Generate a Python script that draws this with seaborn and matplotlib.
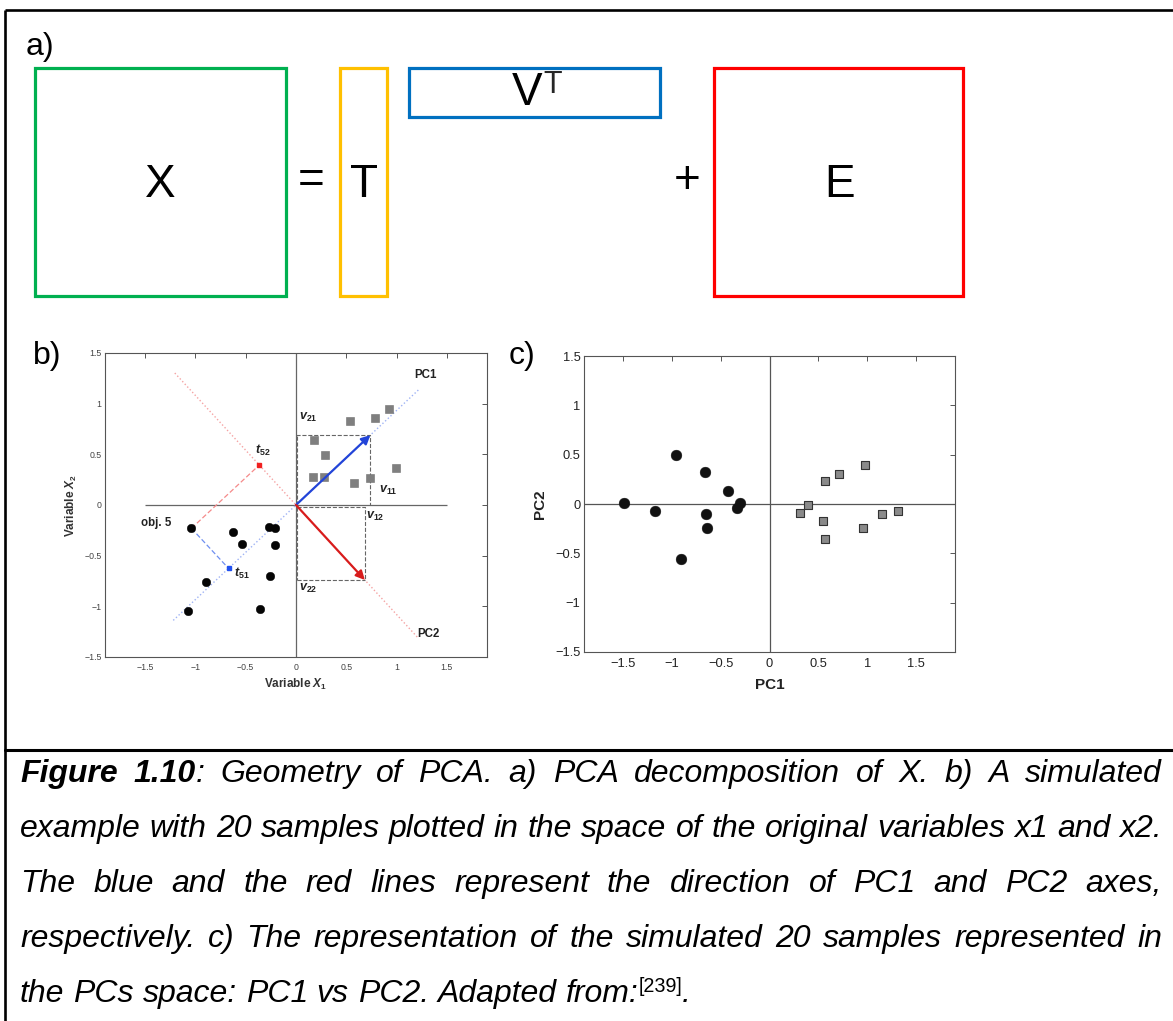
import re
import numpy as np
import pandas as pd
import matplotlib
matplotlib.use("Agg")
import matplotlib.pyplot as plt
from matplotlib.patches import Rectangle
from matplotlib.lines import Line2D
from matplotlib.ticker import FuncFormatter
from matplotlib.transforms import IdentityTransform
import seaborn as sns

# ---------------------------------------------------------------------------
# Data
# ---------------------------------------------------------------------------
# b) simulated samples in the space of the original variables
b_circle_x1 = [-1.04, -0.625, -0.54, -0.266, -0.206, -0.21, -0.256, -0.895, -1.074, -0.356]
b_circle_x2 = [-0.23, -0.27, -0.385, -0.214, -0.23, -0.39, -0.70, -0.763, -1.043, -1.026]
b_square_x1 = [0.176, 0.289, 0.173, 0.283, 0.579, 0.732, 0.991, 0.542, 0.781, 0.924]
b_square_x2 = [0.638, 0.493, 0.273, 0.273, 0.214, 0.266, 0.368, 0.832, 0.862, 0.947]

# loadings: PC1 = (v11, v21), PC2 = (v12, v22)
v_pc1 = [0.74, 0.69]
v_pc2 = [0.685, -0.74]
obj5_index = 0

# c) the same samples in the PC space
c_circle_pc1 = [-1.493, -1.173, -0.958, -0.91, -0.658, -0.648, -0.641, -0.423, -0.307, -0.331]
c_circle_pc2 = [0.013, -0.067, 0.495, -0.556, 0.32, -0.10, -0.24, 0.128, 0.013, -0.037]
c_square_pc1 = [0.31, 0.399, 0.566, 0.709, 0.975, 0.545, 0.569, 0.961, 1.152, 1.313]
c_square_pc2 = [-0.091, -0.013, 0.236, 0.307, 0.398, -0.169, -0.354, -0.246, -0.101, -0.074]

tick_values = [-1.5, -1, -0.5, 0, 0.5, 1, 1.5]

caption_lines = [
    "**Figure** **1.10**: Geometry of PCA. a) PCA decomposition of X. b) A simulated",
    "example with 20 samples plotted in the space of the original variables x1 and x2.",
    "The blue and the red lines represent the direction of PC1 and PC2 axes,",
    "respectively. c) The representation of the simulated 20 samples represented in",
    "the PCs space: PC1 vs PC2. Adapted from:^[239]^.",
]

# ---------------------------------------------------------------------------
# Style
# ---------------------------------------------------------------------------
sns.set_style("white")
plt.rcParams.update({
    "font.family": ["Liberation Sans", "DejaVu Sans"],
    "mathtext.fontset": "custom",
    "mathtext.rm": "Liberation Sans",
    "mathtext.it": "Liberation Sans:italic",
    "mathtext.bf": "Liberation Sans:bold",
    "mathtext.bfit": "Liberation Sans:italic:bold",
})

W, H = 1173, 1021
fig = plt.figure(figsize=(W / 100, H / 100), dpi=100)
fig.patch.set_facecolor("white")


def px_axes(x0, y0, x1, y1, **kw):
    return fig.add_axes([x0 / W, 1 - y1 / H, (x1 - x0) / W, (y1 - y0) / H], **kw)


# full-figure canvas in pixel units for the diagram, frame and caption
canvas = px_axes(0, 0, W, H, zorder=0)
canvas.set_xlim(0, W)
canvas.set_ylim(H, 0)
canvas.axis("off")

# outer frame and caption separator
frame_kw = dict(color="black", lw=1.9, solid_capstyle="butt")
canvas.add_line(Line2D([5, W], [10, 10], **frame_kw))
canvas.add_line(Line2D([5, 5], [10, H], **frame_kw))
canvas.add_line(Line2D([5, W], [750, 750], lw=2.2, color="black"))

# ---------------------------------------------------------------------------
# a) matrix decomposition X = T V^T + E
# ---------------------------------------------------------------------------
blocks = [
    (35, 68, 286, 296, "#00b050"),
    (340, 68, 387, 296, "#ffc000"),
    (409, 68, 660, 117, "#0070c0"),
    (714, 68, 963, 296, "#ff0000"),
]
for x0, y0, x1, y1, col in blocks:
    canvas.add_patch(Rectangle((x0, y0), x1 - x0, y1 - y0, fill=False,
                               edgecolor=col, lw=2.3))

big = dict(fontsize=33, ha="center", va="center", color="black")
canvas.text(160, 185, "X", **big)
canvas.text(311, 181, "=", **big)
canvas.text(364, 185, "T", **big)
canvas.text(687, 181, "+", **big)
canvas.text(840, 185, "E", **big)
canvas.text(527, 93, "V", **big)
canvas.text(553, 85, "T", fontsize=22, ha="center", va="center")

panel_kw = dict(fontsize=23, ha="left", va="center", color="black")
canvas.text(26, 47, "a)", **panel_kw)
canvas.text(33, 356, "b)", **panel_kw)
canvas.text(509, 356, "c)", **panel_kw)


def fmt_tick(v, _pos):
    s = "%g" % v
    return s.replace("-", "\u2212")


def matlab_box(ax, lab_size, lab_color, pad_x, pad_y):
    ax.set_xticks(tick_values)
    ax.set_yticks(tick_values)
    ax.xaxis.set_major_formatter(FuncFormatter(fmt_tick))
    ax.yaxis.set_major_formatter(FuncFormatter(fmt_tick))
    ax.tick_params(axis="both", direction="in", length=3.5, width=0.7,
                   colors="#555555", labelcolor=lab_color,
                   labelsize=lab_size, top=True, right=True)
    ax.tick_params(axis="x", pad=pad_x)
    ax.tick_params(axis="y", pad=pad_y)
    for sp in ax.spines.values():
        sp.set_visible(True)
        sp.set_color("#555555")
        sp.set_linewidth(0.8)


# ---------------------------------------------------------------------------
# b) samples in the original variable space
# ---------------------------------------------------------------------------
axb = px_axes(105, 353, 487, 657)
axb.set_xlim(-1.9, 1.9)
axb.set_ylim(-1.5, 1.5)
matlab_box(axb, 6.3, "#444444", 4, 2.5)

axb.hlines(0, tick_values[0], tick_values[-1], color="#666666", lw=0.9, zorder=1)
axb.axvline(0, color="#666666", lw=0.9, zorder=1)

v1 = np.array(v_pc1)
v2 = np.array(v_pc2)

# principal axes as dotted lines
t1 = np.array([-1.65, 1.65])
t2 = np.array([-1.76, 1.76])
axb.plot(t1 * v1[0], t1 * v1[1], ls=":", color="#9fb3f5", lw=1.0, zorder=1)
axb.plot(t2 * v2[0], t2 * v2[1], ls=":", color="#f5a3a3", lw=1.0, zorder=1)

# dashed boxes showing the loading components
box_kw = dict(ls="--", color="#666666", lw=0.8, zorder=2)
axb.plot([0, v1[0], v1[0]], [v1[1], v1[1], 0], **box_kw)
axb.plot([0.01, 0.01], [0, v1[1]], **box_kw)
axb.plot([0.01, v2[0], v2[0]], [-0.02, -0.02, v2[1]], **box_kw)
axb.plot([0.01, v2[0]], [v2[1], v2[1]], **box_kw)
axb.plot([0.01, 0.01], [-0.02, v2[1]], **box_kw)

# projection of object 5 onto both principal components
obj5 = np.array([b_circle_x1[obj5_index], b_circle_x2[obj5_index]])
s51 = obj5 @ v1 / (v1 @ v1)
s52 = obj5 @ v2 / (v2 @ v2)
p51 = s51 * v1
p52 = s52 * v2
axb.plot([obj5[0], p51[0]], [obj5[1], p51[1]], ls=(0, (4, 2)), color="#6f8ff0", lw=0.9, zorder=2)
axb.plot([obj5[0], p52[0]], [obj5[1], p52[1]], ls=(0, (4, 2)), color="#f58a8a", lw=0.9, zorder=2)
axb.plot([p51[0]], [p51[1]], marker="s", ms=3.2, color="#2050f0", zorder=4)
axb.plot([p52[0]], [p52[1]], marker="s", ms=3.2, color="#f02020", zorder=4)

# loading vectors
axb.annotate("", xy=tuple(v1), xytext=(0, 0),
             arrowprops=dict(arrowstyle="-|>", color="#2244d8", lw=1.6,
                             mutation_scale=13, shrinkA=0, shrinkB=0), zorder=6)
axb.annotate("", xy=tuple(v2), xytext=(0, 0),
             arrowprops=dict(arrowstyle="-|>", color="#d81c1c", lw=1.6,
                             mutation_scale=13, shrinkA=0, shrinkB=0), zorder=6)

b_points = pd.DataFrame({
    "x1": b_circle_x1 + b_square_x1,
    "x2": b_circle_x2 + b_square_x2,
    "group": ["circle"] * len(b_circle_x1) + ["square"] * len(b_square_x1),
})
sns.scatterplot(data=b_points[b_points.group == "circle"], x="x1", y="x2", ax=axb,
                marker="o", s=38, color="#050505", edgecolor="#050505",
                linewidth=0.3, zorder=5, legend=False)
sns.scatterplot(data=b_points[b_points.group == "square"], x="x1", y="x2", ax=axb,
                marker="s", s=30, color="#7f7f7f", edgecolor="#707070",
                linewidth=0.4, zorder=5, legend=False)

lab_b = dict(fontsize=8.3, fontweight="bold", color="#222222", zorder=7)
vlab = dict(fontsize=9, fontweight="bold", color="#222222", zorder=7)
axb.text(1.29, 1.28, "PC1", ha="center", va="center", **lab_b)
axb.text(1.32, -1.27, "PC2", ha="center", va="center", **lab_b)
axb.text(-1.39, -0.18, "obj. 5", ha="center", va="center", **lab_b)
axb.text(0.12, 0.86, r"$\mathbfit{v}_{\mathbf{21}}$", ha="center", va="center", **vlab)
axb.text(0.92, 0.14, r"$\mathbfit{v}_{\mathbf{11}}$", ha="center", va="center", **vlab)
axb.text(0.79, -0.11, r"$\mathbfit{v}_{\mathbf{12}}$", ha="center", va="center", **vlab)
axb.text(0.12, -0.82, r"$\mathbfit{v}_{\mathbf{22}}$", ha="center", va="center", **vlab)
axb.text(p52[0] + 0.04, p52[1] + 0.14, r"$\mathbfit{t}_{\mathbf{52}}$", ha="center", va="center", **vlab)
axb.text(p51[0] + 0.13, p51[1] - 0.05, r"$\mathbfit{t}_{\mathbf{51}}$", ha="center", va="center", **vlab)

axb.set_xlabel(r"Variable $\mathbfit{X}_{\mathbf{1}}$", fontsize=8.5, fontweight="bold",
               color="#333333", labelpad=4)
axb.set_ylabel(r"Variable $\mathbfit{X}_{\mathbf{2}}$", fontsize=8.5, fontweight="bold",
               color="#333333", labelpad=4)

# ---------------------------------------------------------------------------
# c) scores on PC1 vs PC2
# ---------------------------------------------------------------------------
axc = px_axes(584, 356, 955, 652)
axc.set_xlim(-1.9, 1.9)
axc.set_ylim(-1.5, 1.5)
matlab_box(axc, 9.3, "#222222", 4, 2.5)
axc.axhline(0, color="#555555", lw=0.9, zorder=1)
axc.axvline(0, color="#555555", lw=0.9, zorder=1)

c_points = pd.DataFrame({
    "PC1": c_circle_pc1 + c_square_pc1,
    "PC2": c_circle_pc2 + c_square_pc2,
    "group": ["circle"] * len(c_circle_pc1) + ["square"] * len(c_square_pc1),
})
sns.scatterplot(data=c_points[c_points.group == "circle"], x="PC1", y="PC2", ax=axc,
                marker="o", s=60, color="#111111", edgecolor="#111111",
                linewidth=0.3, zorder=5, legend=False)
sns.scatterplot(data=c_points[c_points.group == "square"], x="PC1", y="PC2", ax=axc,
                marker="s", s=36, color="#8a8a8a", edgecolor="#333333",
                linewidth=0.8, zorder=5, legend=False)
axc.set_xlabel("PC1", fontsize=11, fontweight="bold", color="#222222", labelpad=6)
axc.set_ylabel("PC2", fontsize=11, fontweight="bold", color="#222222", labelpad=6)

# ---------------------------------------------------------------------------
# Caption (justified)
# ---------------------------------------------------------------------------
renderer = fig.canvas.get_renderer()
cap_size = 23
base_style = dict(fontsize=cap_size, fontstyle="italic", color="black")


def parse_word(word):
    pieces = []
    for part in re.split(r"(\*\*.+?\*\*|\^.+?\^)", word):
        if not part:
            continue
        if part.startswith("**"):
            pieces.append((part[2:-2], dict(base_style, fontweight="bold"), 0))
        elif part.startswith("^"):
            pieces.append((part[1:-1], dict(base_style, fontstyle="normal",
                                            fontsize=cap_size * 0.62), 10))
        else:
            pieces.append((part, dict(base_style), 0))
    return pieces


def text_width(txt, style):
    t = fig.text(0, 0, txt, transform=IdentityTransform(), **style)
    w = t.get_window_extent(renderer).width
    t.remove()
    return w


space_w = text_width("a a", base_style) - text_width("aa", base_style)
cap_left, cap_right = 20, 1162
baselines = [782, 836.5, 891.5, 946.5, 1002]

for i, line in enumerate(caption_lines):
    words = [parse_word(w) for w in line.split(" ")]
    widths = [[text_width(t, st) for t, st, _ in w] for w in words]
    total = sum(sum(w) for w in widths)
    justify = i < len(caption_lines) - 1
    gap = (cap_right - cap_left - total) / (len(words) - 1) if justify else space_w
    x = cap_left
    y = H - baselines[i]
    for w, ws in zip(words, widths):
        for (txt, st, dy), wd in zip(w, ws):
            fig.text(x, y + dy, txt, transform=IdentityTransform(),
                     ha="left", va="baseline", **st)
            x += wd
        x += gap

fig.savefig("out.png", dpi=100, facecolor="white")
